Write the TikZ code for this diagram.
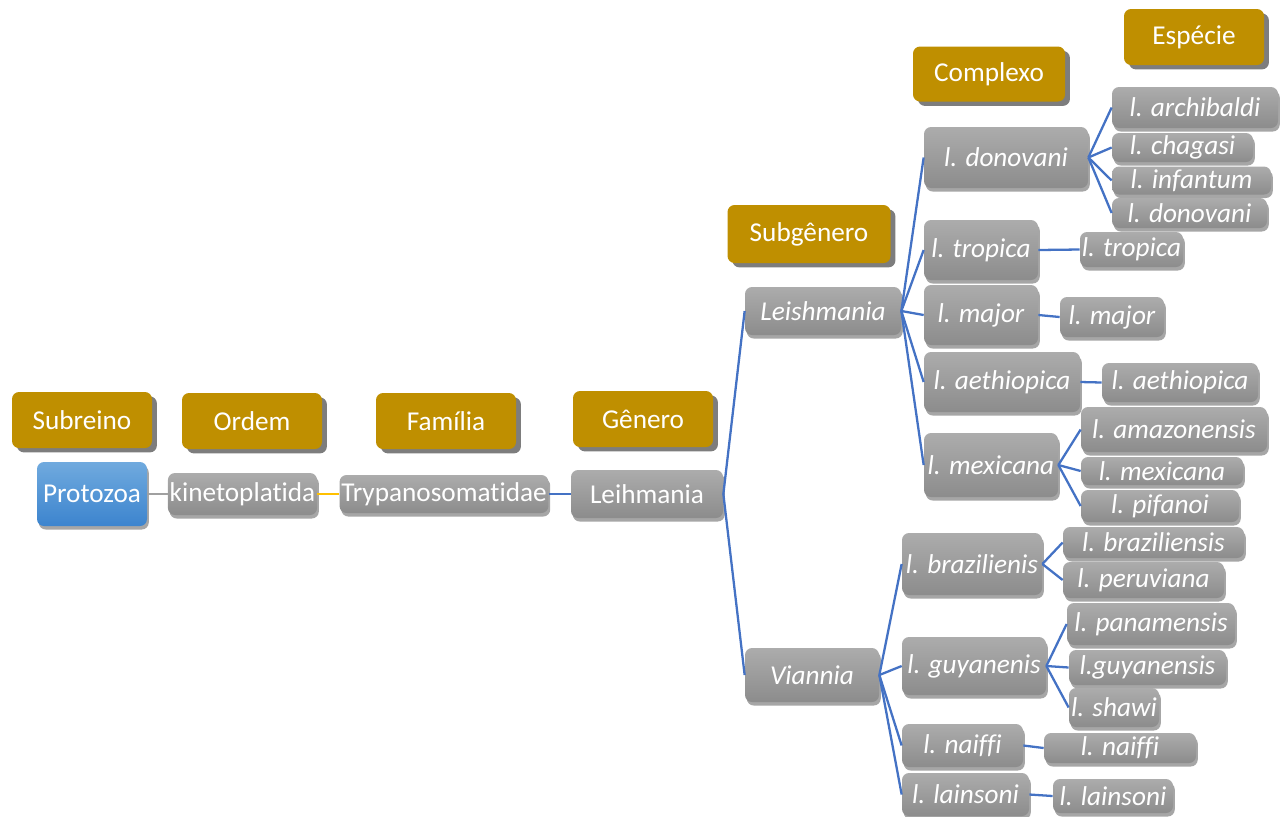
\documentclass[tikz,border=0pt]{standalone}
\usepackage{fontspec}
\setmainfont{Carlito}[Ligatures=NoCommon]
\usepackage{xcolor}
\usetikzlibrary{shadows}

\definecolor{rankgold}{RGB}{191,143,0}
\definecolor{rankshade}{RGB}{125,125,125}
\definecolor{taxtop}{RGB}{172,172,172}
\definecolor{taxbottom}{RGB}{140,140,140}
\definecolor{prototop}{RGB}{112,170,222}
\definecolor{protobottom}{RGB}{60,132,206}
\definecolor{linkblue}{RGB}{68,114,196}
\definecolor{linkgold}{RGB}{255,192,0}
\definecolor{linkgrey}{RGB}{160,160,160}

\newcommand\taxfont{\fontsize{15.5}{18}\selectfont}

\begin{document}
\begin{tikzpicture}[
  x=0.02cm, y=-0.02cm,
  dims/.style 2 args={minimum width=#1*0.02cm, minimum height=#2*0.02cm},
  rankbox/.style={fill=rankgold, text=white, rounded corners=4pt, inner sep=1pt, dims={140}{56},
    font=\taxfont, drop shadow={shadow xshift=2.8pt, shadow yshift=-2.5pt, fill=rankshade, opacity=1}},
  taxon/.style={top color=taxtop, bottom color=taxbottom, text=white, rounded corners=4pt, inner sep=1pt,
    font=\taxfont, drop shadow={shadow xshift=1pt, shadow yshift=-2pt, fill=black, opacity=.35}},
  sp/.style={taxon, font=\taxfont\itshape},
  protobox/.style={taxon, top color=prototop, bottom color=protobottom},
  link/.style={linkblue, line width=1.3pt}
]
\useasboundingbox (0,0) rectangle (1281,816);

% ranks
\node[rankbox] (subreino) at (82,420) {Subreino};
\node[rankbox] (ordem) at (252,421) {Ordem};
\node[rankbox] (familia) at (446,421) {Família};
\node[rankbox] (genero) at (643,419) {Gênero};
\node[rankbox, dims={163}{58}] (subgenero) at (809,234) {Subgênero};
\node[rankbox, dims={152}{55}] (complexo) at (989,74) {Complexo};
\node[rankbox] (especie) at (1194,37) {Espécie};

% main chain
\node[protobox, dims={110}{64}] (protozoa) at (92,494) {Protozoa};
\node[taxon, dims={149}{42}] (kineto) at (242.5,494) {kinetoplatida};
\node[taxon, dims={208}{38}] (trypano) at (444,494) {Trypanosomatidae};
\node[taxon, dims={152}{48}] (leihmania) at (647,494) {Leihmania};

% subgenera
\node[sp, dims={156}{48}] (leish) at (823,311) {Leishmania};
\node[sp, dims={134}{54}] (viannia) at (812,675) {Viannia};

% complexes
\node[sp, dims={164}{61}] (cdonovani) at (1006,157.5) {l. donovani};
\node[sp, dims={114}{60}] (ctropica) at (981,250) {l. tropica};
\node[sp, dims={114}{60}] (cmajor) at (981,315) {l. major};
\node[sp, dims={156}{60}] (caethiopica) at (1002,382) {l. aethiopica};
\node[sp, dims={134}{64}] (cmexicana) at (991,465) {l. mexicana};
\node[sp, dims={140}{62}] (cbrazil) at (972,564) {l. brazilienis};
\node[sp, dims={144}{58}] (cguyan) at (974,666) {l. guyanenis};
\node[sp, dims={121}{43}] (cnaiffi) at (962.5,745.5) {l. naiffi};
\node[sp, dims={127}{43}] (clainsoni) at (965.5,794.5) {l. lainsoni};

% species
\node[sp, dims={166}{41}] (archibaldi) at (1195,107.5) {l. archibaldi};
\node[sp, dims={141}{29}] (chagasi) at (1182.5,147.5) {l. chagasi};
\node[sp, dims={159}{28}] (infantum) at (1191.5,180.5) {l. infantum};
\node[sp, dims={155}{30}] (sdonovani) at (1189.5,213) {l. donovani};
\node[sp, dims={103}{35}] (stropica) at (1131.5,249.5) {l. tropica};
\node[sp, dims={104}{40}] (smajor) at (1112,317) {l. major};
\node[sp, dims={156}{39}] (saethiopica) at (1180,382.5) {l. aethiopica};
\node[sp, dims={186}{45}] (amazonensis) at (1174,429.5) {l. amazonensis};
\node[sp, dims={162}{28}] (smexicana) at (1162,471) {l. mexicana};
\node[sp, dims={158}{32}] (pifanoi) at (1160,506) {l. pifanoi};
\node[sp, dims={181}{31}] (sbrazil) at (1153.5,542.5) {l. braziliensis};
\node[sp, dims={161}{36}] (peruviana) at (1143.5,580) {l. peruviana};
\node[sp, dims={168}{42}] (panamensis) at (1151,624) {l. panamensis};
\node[sp, dims={157}{35}] (sguyan) at (1147.5,667.5) {l.guyanensis};
\node[sp, dims={90}{39}] (shawi) at (1114,707.5) {l. shawi};
\node[sp, dims={152}{30}] (snaiffi) at (1120,748) {l. naiffi};
\node[sp, dims={120}{34}] (slainsoni) at (1113,796) {l. lainsoni};

% connectors
\draw[linkgrey, line width=1.3pt] (protozoa) -- (kineto);
\draw[linkgold, line width=1.3pt] (kineto) -- (trypano);
\draw[link] (trypano) -- (leihmania);
\draw[link] (leihmania.east) -- (leish.west);
\draw[link] (leihmania.east) -- (viannia.west);
\foreach \c in {cdonovani,ctropica,cmajor,caethiopica,cmexicana}
  \draw[link] (leish.east) -- (\c.west);
\foreach \c in {cbrazil,cguyan,cnaiffi,clainsoni}
  \draw[link] (viannia.east) -- (\c.west);
\foreach \s in {archibaldi,chagasi,infantum,sdonovani}
  \draw[link] (cdonovani.east) -- (\s.west);
\foreach \s in {amazonensis,smexicana,pifanoi}
  \draw[link] (cmexicana.east) -- (\s.west);
\foreach \s in {sbrazil,peruviana}
  \draw[link] (cbrazil.east) -- (\s.west);
\foreach \s in {panamensis,sguyan,shawi}
  \draw[link] (cguyan.east) -- (\s.west);
\draw[link] (ctropica.east) -- (stropica.west);
\draw[link] (cmajor.east) -- (smajor.west);
\draw[link] (caethiopica.east) -- (saethiopica.west);
\draw[link] (cnaiffi.east) -- (snaiffi.west);
\draw[link] (clainsoni.east) -- (slainsoni.west);
\end{tikzpicture}
\end{document}
